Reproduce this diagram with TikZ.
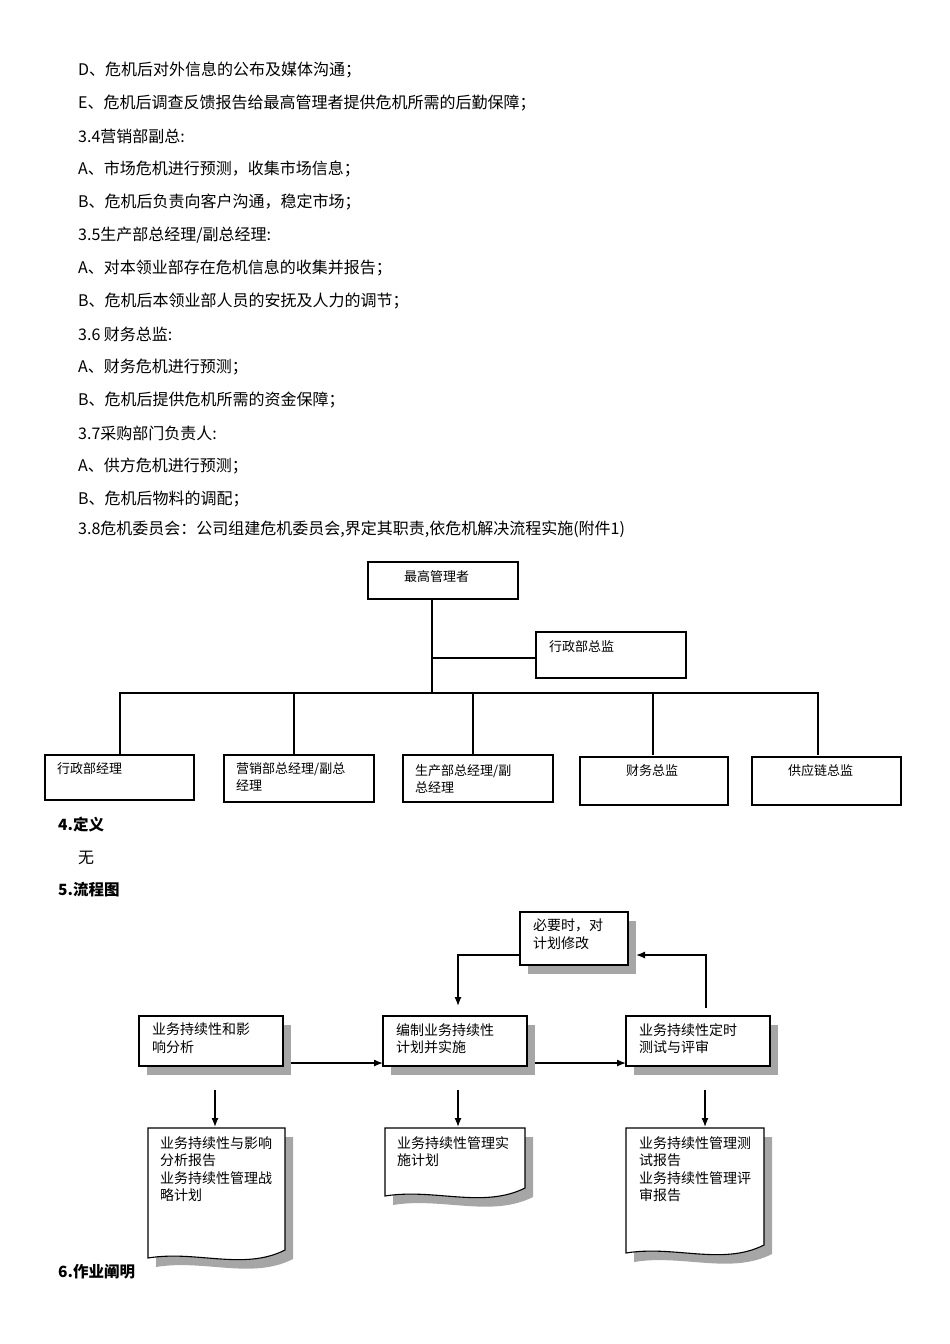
\documentclass[tikz,border=0pt]{standalone}
\usepackage{fontspec}
\usetikzlibrary{arrows.meta}
\newfontfamily\cjk{Noto Sans CJK SC}
\begin{document}
\begin{tikzpicture}[x=1pt,y=-1pt,
  body/.style={anchor=west,inner sep=0,font=\cjk\fontsize{16}{18}\selectfont},
  head/.style={anchor=west,inner sep=0,font=\cjk\bfseries\fontsize{15.5}{18}\selectfont},
  obox/.style={draw,line width=1.3pt,inner sep=0},
  otxt/.style={anchor=north west,inner sep=0,align=left,font=\cjk\fontsize{13}{17}\selectfont},
  ftxt/.style={anchor=north west,inner sep=0,align=left,font=\cjk\fontsize{14}{17.5}\selectfont},
  shad/.style={fill=gray!70,draw=none},
  fbox/.style={draw,fill=white,line width=1.1pt},
  arr/.style={-{Latex[length=9pt,width=7pt]},line width=1.3pt},
  ln/.style={line width=1.3pt}]
\useasboundingbox (0,0) rectangle (950,1344);
\node[body] (t1) at (78,70) {D、危机后对外信息的公布及媒体沟通；};
\node[body] (t2) at (78,103) {E、危机后调查反馈报告给最高管理者提供危机所需的后勤保障；};
\node[body] (t3) at (78,136) {3.4营销部副总:};
\node[body] (t4) at (78,169) {A、市场危机进行预测，收集市场信息；};
\node[body] (t5) at (78,202) {B、危机后负责向客户沟通，稳定市场；};
\node[body] (t6) at (78,235) {3.5生产部总经理/副总经理:};
\node[body] (t7) at (78,268) {A、对本领业部存在危机信息的收集并报告；};
\node[body] (t8) at (78,301) {B、危机后本领业部人员的安抚及人力的调节；};
\node[body] (t9) at (78,334) {3.6 财务总监:};
\node[body] (t10) at (78,367) {A、财务危机进行预测；};
\node[body] (t11) at (78,400) {B、危机后提供危机所需的资金保障；};
\node[body] (t12) at (78,433) {3.7采购部门负责人:};
\node[body] (t13) at (78,466) {A、供方危机进行预测；};
\node[body] (t14) at (78,499) {B、危机后物料的调配；};
\node[body] (t15) at (78,529) {3.8危机委员会：公司组建危机委员会,界定其职责,依危机解决流程实施(附件1)};
% org chart
\draw[obox] (368,562) rectangle (518,599);
\node[otxt] (top) at (404,570) {最高管理者};
\draw[obox] (536,632) rectangle (686,678);
\node[otxt] (xzj) at (549,640) {行政部总监};
\coordinate (c1) at (432,599);
\coordinate (c2) at (432,693);
\coordinate (c3) at (432,658);
\coordinate (c4) at (536,658);
\draw[ln] (c1) -- (c2);
\draw[ln] (c3) -- (c4);
\draw[ln] (120,755) -- (120,693) -- (818,693) -- (818,755);
\foreach \x in {294,473,653} \draw[ln] (\x,693) -- (\x,755);
\draw[obox] (45,755) rectangle (194,800);
\node[otxt] (b1) at (57,762) {行政部经理};
\draw[obox] (224,755) rectangle (374,802);
\node[otxt] (b2) at (236,762) {营销部总经理/副总\\经理};
\draw[obox] (403,755) rectangle (553,802);
\node[otxt] (b3) at (415,764) {生产部总经理/副\\总经理};
\draw[obox] (580,757) rectangle (728,805);
\node[otxt] (b4) at (626,764) {财务总监};
\draw[obox] (752,757) rectangle (901,805);
\node[otxt] (b5) at (788,764) {供应链总监};
\node[head] (h4) at (58,825) {4.定义};
\node[body] (w) at (78,858) {无};
\node[head] (h5) at (58,890) {5.流程图};
\node[head] (h6) at (58,1272) {6.作业阐明};
% flowchart boxes with shadow
\foreach \a/\b/\c/\d in {139/1016/283/1066, 383/1016/527/1066, 626/1016/770/1066, 520/912/628/965}{
  \fill[shad] (\a+8,\b+9) rectangle (\c+8,\d+9);
  \draw[fbox] (\a,\b) rectangle (\c,\d);}
\node[ftxt] (fa) at (152,1023) {业务持续性和影\\响分析};
\node[ftxt] (fb) at (396,1023) {编制业务持续性\\计划并实施};
\node[ftxt] (fc) at (639,1023) {业务持续性定时\\测试与评审};
\node[ftxt] (fd) at (533,919) {必要时，对\\计划修改};
\coordinate (aR) at (291,1063); \coordinate (bL) at (383,1063);
\coordinate (bR) at (535,1063); \coordinate (cL) at (626,1063);
\draw[arr] (aR) -- (bL);
\draw[arr] (bR) -- (cL);
\coordinate (dL) at (520,955); \coordinate (bT) at (458,1006);
\draw[arr] (dL) -- (458,955) -- (bT);
\coordinate (cT) at (706,1008); \coordinate (dR) at (636,955);
\draw[arr] (cT) -- (706,955) -- (dR);
% documents
\foreach \a/\b/\c/\d in {148/1128/285/1250, 385/1128/525/1188, 626/1128/764/1245}{
  \fill[shad] (\a+8,\b+9) -- (\c+8,\b+9) -- (\c+8,\d+9) .. controls (\c-0.3*\c+0.3*\a+8,\d+30) and (\a+0.35*\c-0.35*\a+8,\d+9) .. (\a+8,\d+17) -- cycle;
  \draw[fbox] (\a,\b) -- (\c,\b) -- (\c,\d) .. controls (\c-0.3*\c+0.3*\a,\d+21) and (\a+0.35*\c-0.35*\a,\d) .. (\a,\d+8) -- cycle;}
\node[ftxt] (da) at (160,1136) {业务持续性与影响\\分析报告\\业务持续性管理战\\略计划};
\node[ftxt] (db) at (397,1136) {业务持续性管理实\\施计划};
\node[ftxt] (dc) at (639,1136) {业务持续性管理测\\试报告\\业务持续性管理评\\审报告};
\coordinate (a1) at (215,1090); \coordinate (a2) at (215,1127);
\coordinate (b1) at (458,1090); \coordinate (b2) at (458,1127);
\coordinate (e1) at (705,1090); \coordinate (e2) at (705,1127);
\draw[arr] (a1) -- (a2); \draw[arr] (b1) -- (b2); \draw[arr] (e1) -- (e2);
\end{tikzpicture}
\end{document}
